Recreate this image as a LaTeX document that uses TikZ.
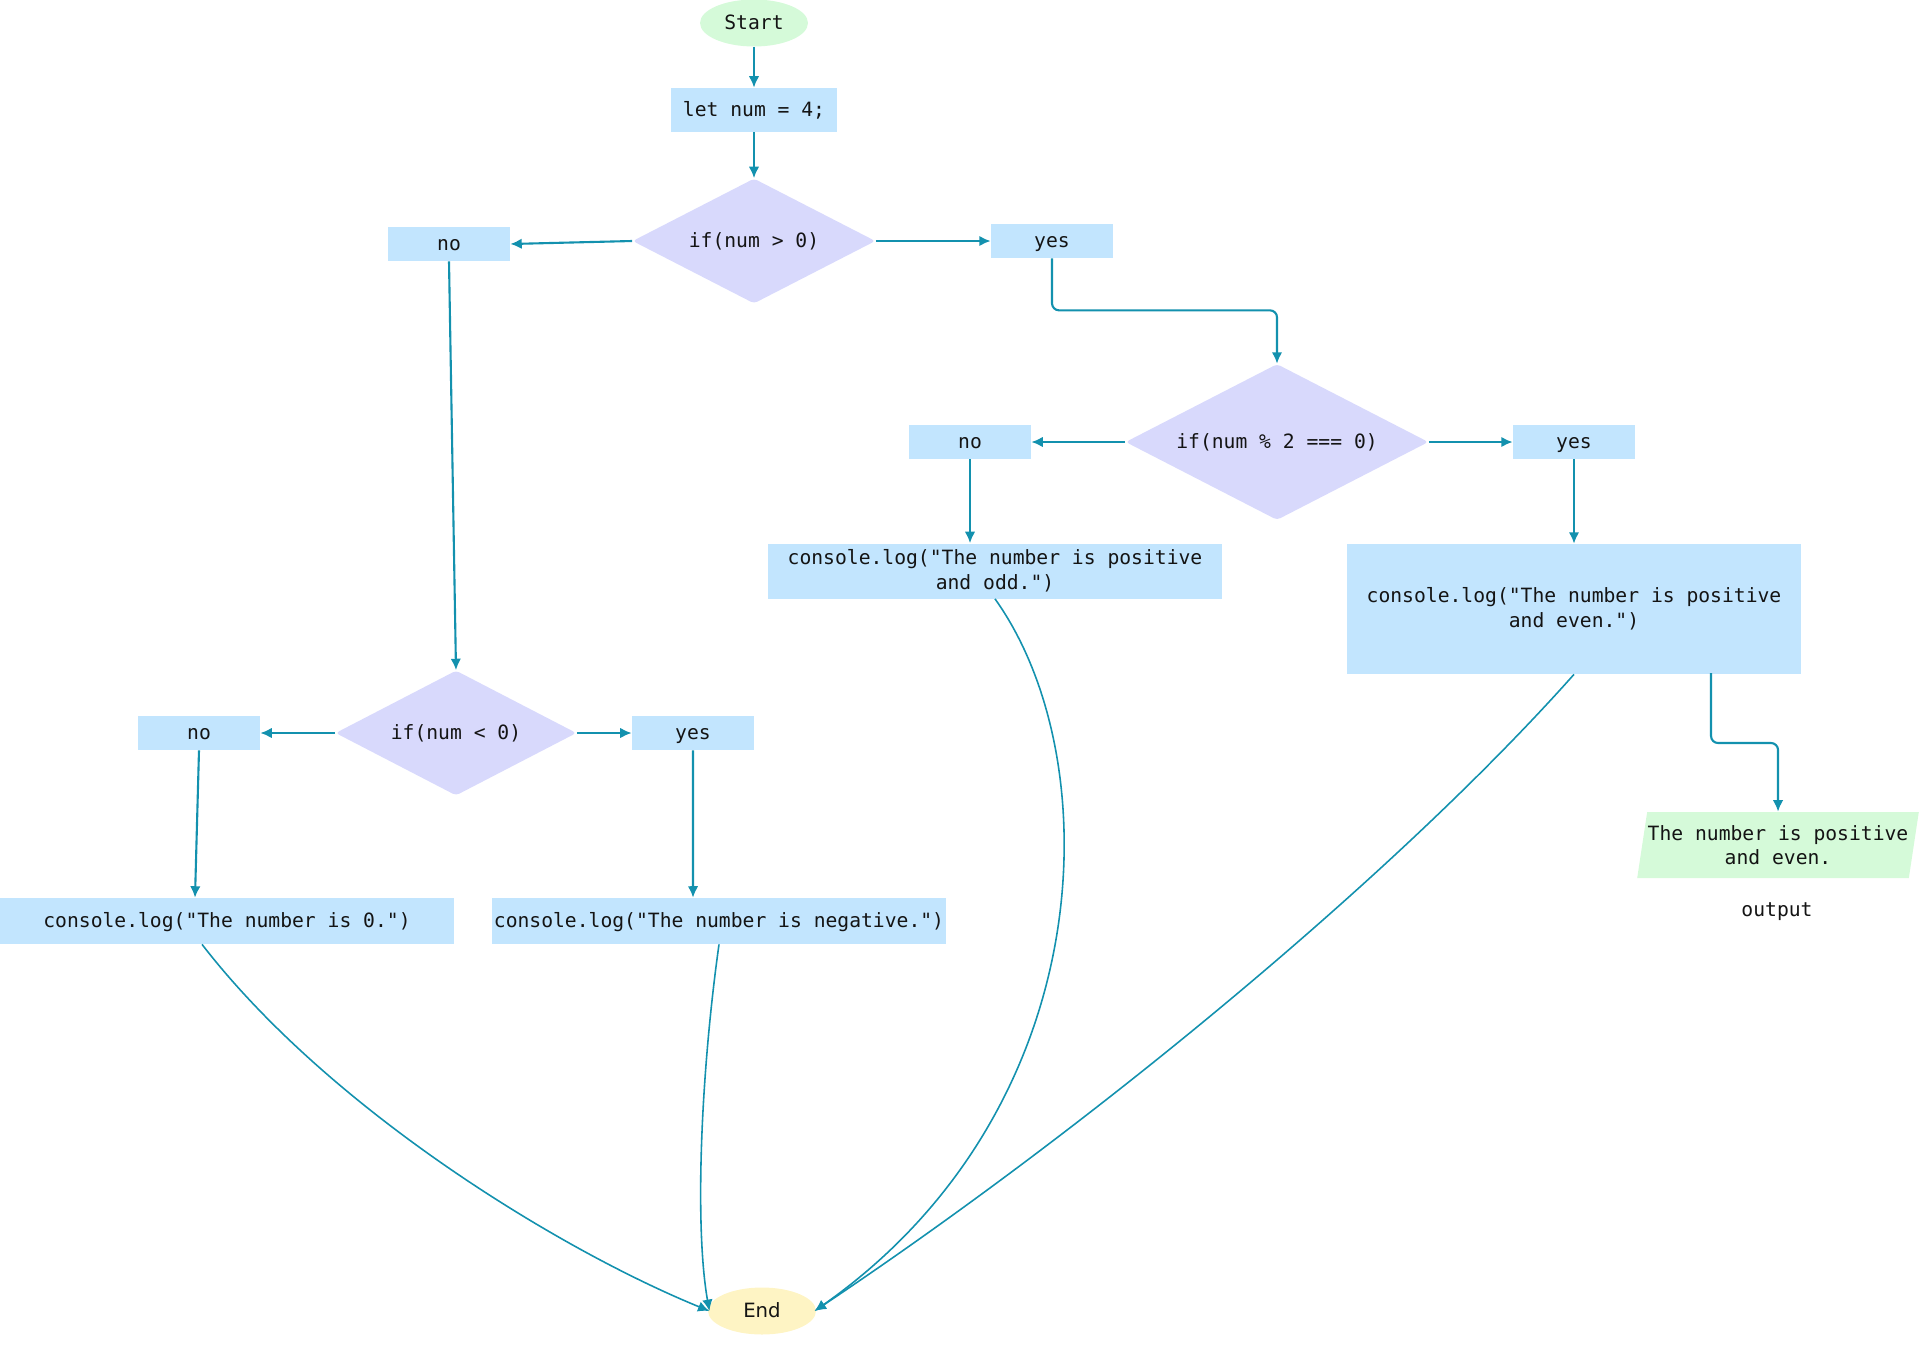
\documentclass[tikz,border=0pt]{standalone}
\usepackage{fontspec}
\setmonofont{DejaVu Sans Mono}
\setsansfont{DejaVu Sans}
\usetikzlibrary{shapes.geometric,arrows.meta}
\definecolor{flowteal}{HTML}{1391AE}
\definecolor{boxblue}{HTML}{C2E5FE}
\definecolor{testlilac}{HTML}{D8D9FC}
\definecolor{startmint}{HTML}{D5FAD9}
\definecolor{endcream}{HTML}{FEF4C4}
\tikzset{
  >={Latex[length=6.5pt,width=6pt]},
}
\tikzstyle{every node}=[font=\ttfamily\fontsize{11.2}{14}\selectfont,text=black!92]
\tikzstyle{oneline}=[text height=8.5pt,text depth=1.5pt]
\tikzstyle{proc}=[rectangle,fill=boxblue,inner sep=0pt,align=center,minimum width=9.08cm]
\tikzstyle{branch}=[rectangle,fill=boxblue,inner sep=0pt,minimum width=2.44cm,minimum height=0.68cm,oneline]
\tikzstyle{test}=[diamond,fill=testlilac,inner sep=0pt,aspect=2,rounded corners=2pt,oneline]
\tikzstyle{terminal}=[ellipse,inner sep=0pt,minimum width=2.16cm,minimum height=0.94cm,oneline]
\tikzstyle{flow}=[->,line width=1.2pt,draw=flowteal]
\tikzstyle{curved}=[->,line width=0.9pt,draw=flowteal]

\begin{document}
\begin{tikzpicture}[x=0.02cm,y=-0.02cm]
    \useasboundingbox (0,0) rectangle (1920,1360);
    % top
    \node[terminal,fill=startmint] (start) at (754,23) {Start};
    \node[proc,oneline,minimum width=3.34cm,minimum height=0.88cm] (letnum) at (754,110) {let num = 4;};
    \node[test,minimum width=4.86cm,minimum height=2.5cm] (ifpos) at (754,241) {if(num > 0)};
    \node[branch] (posno) at (449,244) {no};
    \node[branch] (posyes) at (1052,241) {yes};
    % positive side
    \node[test,minimum width=6.06cm,minimum height=3.12cm] (ifeven) at (1277,442) {if(num \% 2 === 0)};
    \node[branch] (evenno) at (970,442) {no};
    \node[branch] (evenyes) at (1574,442) {yes};
    \node[proc,minimum height=1.1cm] (logodd) at (995,571) {console.log("The number is positive\\and odd.")};
    \node[proc,minimum height=2.6cm] (logeven) at (1574,609) {console.log("The number is positive\\and even.")};
    \node[trapezium,trapezium left angle=76,trapezium right angle=104,trapezium stretches=true,
          fill=startmint,inner sep=0pt,minimum width=5.64cm,minimum height=1.32cm,align=center]
          (result) at (1778,845) {The number is positive\\and even.};
    \node[oneline] (resultlabel) at (1777,910) {output};
    \coordinate (evenout) at (1711,673);
    % negative side
    \node[test,minimum width=4.82cm,minimum height=2.5cm] (ifneg) at (456,733) {if(num < 0)};
    \node[branch] (negno) at (199,733) {no};
    \node[branch] (negyes) at (693,733) {yes};
    \node[proc,oneline,minimum height=0.92cm] (logzero) at (227,921) {console.log("The number is 0.")};
    \node[proc,oneline,minimum height=0.92cm] (logneg) at (719,921) {console.log("The number is negative.")};
    \node[terminal,fill=endcream,font=\sffamily\fontsize{11.2}{14}\selectfont] (finish) at (762,1311) {End};

    \draw[flow] (start) -- (letnum);
    \draw[flow] (letnum) -- (ifpos);
    \draw[flow] (ifpos.west) -- (posno.east);
    \draw[flow] (ifpos.east) -- (posyes.west);
    \draw[flow,rounded corners=4pt] (posyes.south) -- ++(0,52) -| (ifeven.north);
    \draw[flow] (posno.south) -- (ifneg.north);
    \draw[flow] (ifeven.west) -- (evenno.east);
    \draw[flow] (ifeven.east) -- (evenyes.west);
    \draw[flow] (evenno.south) -- (evenno.south |- logodd.north);
    \draw[flow] (evenyes) -- (logeven);
    \draw[flow,rounded corners=4pt] (evenout) -- ++(0,70) -| (result.north);
    \draw[flow] (ifneg.west) -- (negno.east);
    \draw[flow] (ifneg.east) -- (negyes.west);
    \draw[flow] (negno.south) -- ([xshift=-0.64cm]logzero.north);
    \draw[flow] (negyes) -- ([xshift=-0.52cm]logneg.north);
    % into End
    \draw[curved] ([xshift=-0.5cm]logzero.south) .. controls (330,1110) and (560,1250) .. ([xshift=1pt]finish.west);
    \draw[curved] (logneg.south) .. controls (700,1080) and (695,1230) .. ([xshift=1pt]finish.west);
    \draw[curved] (logodd.south) .. controls (1110,760) and (1100,1110) .. ([xshift=-1pt]finish.east);
    \draw[curved] (logeven.south) .. controls (1400,870) and (1100,1120) .. ([xshift=-1pt]finish.east);
\end{tikzpicture}
\end{document}
